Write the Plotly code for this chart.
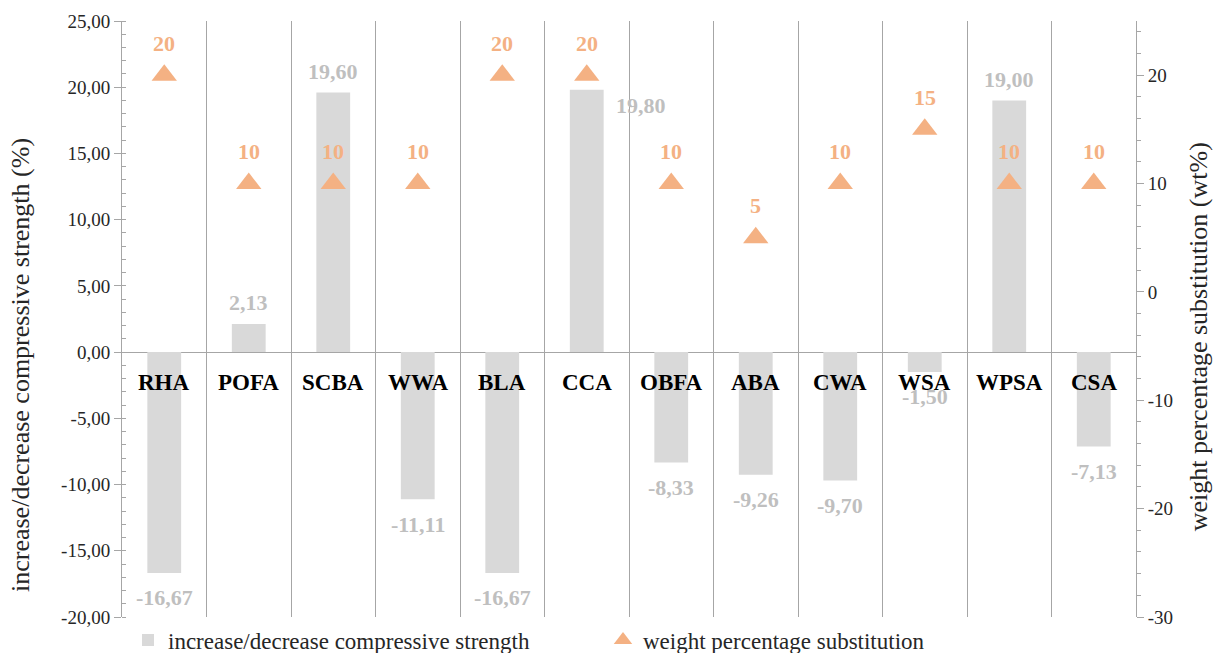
import plotly.graph_objects as go

categories = ["RHA", "POFA", "SCBA", "WWA", "BLA", "CCA", "OBFA", "ABA", "CWA", "WSA", "WPSA", "CSA"]
strength_change = [-16.67, 2.13, 19.60, -11.11, -16.67, 19.80, -8.33, -9.26, -9.70, -1.50, 19.00, -7.13]
weight_pct = [20, 10, 10, 10, 20, 20, 10, 5, 10, 15, 10, 10]

left_tickvals = [-20, -15, -10, -5, 0, 5, 10, 15, 20, 25]
left_ticktext = ["-20,00", "-15,00", "-10,00", "-5,00", "0,00", "5,00", "10,00", "15,00", "20,00", "25,00"]
right_tickvals = [-30, -20, -10, 0, 10, 20]
right_ticktext = ["-30", "-20", "-10", "0", "10", "20"]

FONT = "Times New Roman, Liberation Serif, serif"
BAR_COLOR = "#d9d9d9"
BAR_LABEL = "#bfbfbf"
TRI_COLOR = "#f4b183"
GRID = "#a6a6a6"
TXT = "#262626"

fig = go.Figure()
fig.add_trace(go.Bar(
    x=categories, y=strength_change, name="increase/decrease compressive strength",
    marker=dict(color=BAR_COLOR, line=dict(width=0)), width=0.4, yaxis="y",
    legend="legend",
))
fig.add_trace(go.Scatter(
    x=categories, y=weight_pct, name="weight percentage substitution", mode="markers",
    marker=dict(symbol="triangle-up", size=22, color=TRI_COLOR), yaxis="y2",
    legend="legend2",
))

annotations = []
for c, v in zip(categories, strength_change):
    txt = f"{v:.2f}".replace(".", ",")
    if c == "CCA":
        xs, ys = 54, -16
    else:
        xs, ys = 0, (21 if v >= 0 else -25)
    annotations.append(dict(x=c, y=v, xref="x", yref="y", text=txt, showarrow=False,
                            xshift=xs, yshift=ys,
                            font=dict(family=FONT, size=22, color=BAR_LABEL, weight="bold")))
for c, w in zip(categories, weight_pct):
    annotations.append(dict(x=c, y=w, xref="x", yref="y2", text=str(w), showarrow=False,
                            yshift=32,
                            font=dict(family=FONT, size=22, color=TRI_COLOR, weight="bold")))
for c in categories:
    annotations.append(dict(x=c, y=0, xref="x", yref="y", text=c, showarrow=False,
                            yshift=-30,
                            font=dict(family=FONT, size=23, color="#000000", weight="bold")))
annotations.append(dict(x=-0.1006, y=0.4228, xref="paper", yref="paper",
                        text="increase/decrease compressive strength (%)", textangle=-90,
                        showarrow=False, xanchor="center", yanchor="middle",
                        font=dict(family=FONT, size=26, color=TXT)))
annotations.append(dict(x=1.0625, y=0.4698, xref="paper", yref="paper",
                        text="weight percentage substitution (wt%)", textangle=-90,
                        showarrow=False, xanchor="center", yanchor="middle",
                        font=dict(family=FONT, size=26, color=TXT)))

legend_common = dict(orientation="h", xanchor="left", yref="container", y=13 / 653,
                     yanchor="middle", xref="container",
                     font=dict(family=FONT, size=23, color=TXT),
                     itemwidth=30, bgcolor="rgba(0,0,0,0)")

fig.update_layout(
    width=1215, height=653,
    margin=dict(l=122, r=79, t=21, b=36, autoexpand=False),
    paper_bgcolor="white", plot_bgcolor="white",
    font=dict(family=FONT, size=19, color=TXT),
    xaxis=dict(type="category", showticklabels=False, showgrid=True, gridcolor=GRID, gridwidth=1,
               tickson="boundaries", ticks="", showline=False, zeroline=False,
               range=[-0.5, 11.5]),
    yaxis=dict(range=[-20, 25], tickvals=left_tickvals, ticktext=left_ticktext,
               showgrid=False, zeroline=True, zerolinecolor=GRID, zerolinewidth=1,
               showline=True, linecolor=GRID, linewidth=1,
               ticks="outside", ticklen=7, tickcolor=GRID,
               minor=dict(dtick=1, ticks="inside", ticklen=4, tickcolor=GRID),
               tickfont=dict(family=FONT, size=19, color=TXT)),
    yaxis2=dict(range=[-30, 25], overlaying="y", side="right", tickvals=right_tickvals,
                ticktext=right_ticktext, showgrid=False, zeroline=False,
                showline=True, linecolor=GRID, linewidth=1,
                ticks="outside", ticklen=7, tickcolor=GRID,
                minor=dict(dtick=2, ticks="outside", ticklen=4, tickcolor=GRID),
                tickfont=dict(family=FONT, size=19, color=TXT)),
    showlegend=True,
    legend=dict(x=128 / 1215, **legend_common),
    legend2=dict(x=603 / 1215, **legend_common),
    annotations=annotations,
)

fig.write_html("out.html", config={"displayModeBar": False},
               post_script="document.body.style.margin='0';")
